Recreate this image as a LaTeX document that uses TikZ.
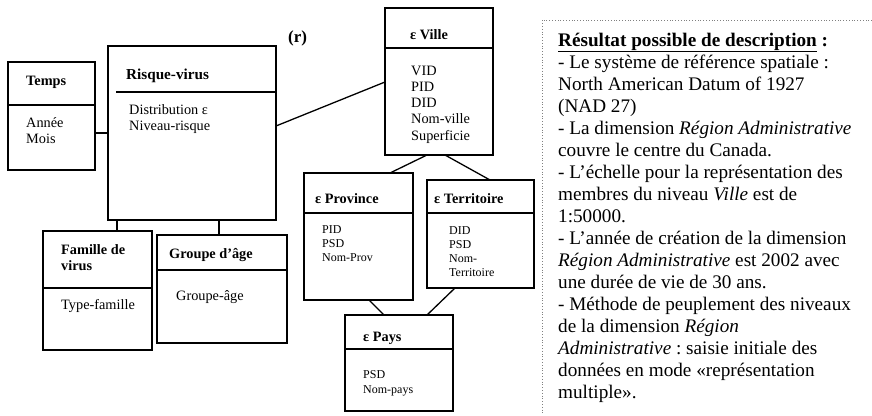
\documentclass[tikz,border=0pt]{standalone}
\usepackage{fontspec}
\setmainfont{Liberation Serif}
\frenchspacing
\begin{document}
\begin{tikzpicture}[x=1pt,y=-1pt,
  box/.style={draw, line width=1.4pt, rectangle, inner sep=0pt, outer sep=0pt, anchor=north west},
  divider/.style={line width=1.3pt},
  link/.style={line width=1.3pt},
  ttl/.style={anchor=base west, inner sep=0pt, align=left, font=\fontsize{14.3}{16.5}\selectfont\bfseries},
  attr/.style={anchor=base west, inner sep=0pt, align=left, font=\fontsize{14.3}{16.7}\selectfont},
  sattr/.style={anchor=base west, inner sep=0pt, align=left, font=\fontsize{12}{14.2}\selectfont},
  frame/.style={draw=gray, dotted, line width=0.8pt}]
\useasboundingbox (0,0) rectangle (872,415);

% ---- boxes ----
\node[box, minimum width=87pt,  minimum height=108pt] (temps)      at (8,62)   {};
\node[box, minimum width=168pt, minimum height=174pt] (risque)     at (108,46) {};
\node[box, minimum width=108pt, minimum height=147pt] (ville)      at (385,8)  {};
\node[box, minimum width=109pt, minimum height=127pt] (province)   at (304,173) {};
\node[box, minimum width=107pt, minimum height=108pt] (territoire) at (427,180) {};
\node[box, minimum width=108pt, minimum height=96pt]  (pays)       at (345,315) {};
\node[box, minimum width=109pt, minimum height=119pt] (famille)    at (43,231) {};
\node[box, minimum width=130pt, minimum height=108pt] (groupe)     at (157,235) {};

% ---- dividers between title and attributes ----
\draw[divider] ([yshift=-43pt]temps.north west) -- ([yshift=-43pt]temps.north east);
\draw[divider] ([xshift=8pt,yshift=-46pt]risque.north west) -- ([yshift=-46pt]risque.north east);
\draw[divider] ([yshift=-40pt]ville.north west) -- ([yshift=-40pt]ville.north east);
\draw[divider] ([yshift=-40pt]province.north west) -- ([yshift=-40pt]province.north east);
\draw[divider] ([yshift=-33pt]territoire.north west) -- ([yshift=-33pt]territoire.north east);
\draw[divider] ([yshift=-34pt]pays.north west) -- ([yshift=-34pt]pays.north east);
\draw[divider] ([yshift=-57pt]famille.north west) -- ([yshift=-57pt]famille.north east);
\draw[divider] ([yshift=-35pt]groupe.north west) -- ([yshift=-35pt]groupe.north east);

% ---- connectors ----
\draw[link] ([yshift=-71pt]temps.north east) -- ([yshift=-71pt]temps.north east -| risque.west);
\draw[link] ([yshift=-80pt]risque.north east) -- ([yshift=-74pt]ville.north west);
\draw[link] ([xshift=9pt]risque.south west) -- ([xshift=9pt]risque.south west |- famille.north);
\draw[link] ([xshift=111pt]risque.south west) -- ([xshift=111pt]risque.south west |- groupe.north);
\draw[link] ([xshift=42pt]ville.south west) -- ([xshift=86pt]province.north west);
\draw[link] ([xshift=60pt]ville.south west) -- ([xshift=63pt]territoire.north west);
\draw[link] ([xshift=65pt]province.south west) -- ([xshift=39pt]pays.north west);
\draw[link] ([xshift=28pt]territoire.south west) -- ([xshift=82pt]pays.north west);

% ---- titles and attributes (base anchor = baseline of the last line) ----
\node[ttl] (tempsT) at (26,85) {Temps};
\node[attr] (tempsA) at (26,143.7) {Année\\Mois};
\node[ttl, font=\fontsize{15.2}{17}\selectfont\bfseries] (risqueT) at (126,79) {Risque-virus};
\node[attr] (risqueA) at (129,130.7) {Distribution ε\\Niveau-risque};
\node[ttl, font=\fontsize{17}{19}\selectfont\bfseries] (rlabel) at (288,42) {(r)};
\node[ttl] (villeT) at (410,39) {ε Ville};
\node[attr, font=\fontsize{14.3}{16.3}\selectfont] (villeA) at (411,140.2) {VID\\PID\\DID\\Nom-ville\\Superficie};
\node[ttl] (provinceT) at (315,203) {ε Province};
\node[sattr] (provinceA) at (322,261.4) {PID\\PSD\\Nom-Prov};
\node[ttl] (territoireT) at (434,203) {ε Territoire};
\node[sattr] (territoireA) at (449,276.6) {DID\\PSD\\Nom-\\Territoire};
\node[ttl] (paysT) at (363,341) {ε Pays};
\node[sattr, font=\fontsize{12}{15}\selectfont] (paysA) at (363,393) {PSD\\Nom-pays};
\node[ttl, font=\fontsize{14.3}{16}\selectfont\bfseries] (familleT) at (61,270) {Famille de\\virus};
\node[attr] (familleA) at (61,309) {Type-famille};
\node[ttl] (groupeT) at (169,258) {Groupe d’âge};
\node[attr] (groupeA) at (176,300) {Groupe-âge};

% ---- description panel ----
\coordinate (panel) at (542,20);
\draw[frame] (872,20) -- (panel) -- (542,415);
\node[anchor=base west, inner sep=0pt, align=left, font=\fontsize{19.2}{22}\selectfont] (desc) at (558,398) {%
\textbf{\underline{Résultat possible de description}} \textbf{:}\\
- Le système de référence spatiale :\\
North American Datum of 1927\\
(NAD 27)\\
- La dimension \textit{Région Administrative}\\
couvre le centre du Canada.\\
- L’échelle pour la représentation des\\
membres du niveau \textit{Ville} est de\\
1:50000.\\
- L’année de création de la dimension\\
\textit{Région Administrative} est 2002 avec\\
une durée de vie de 30 ans.\\
- Méthode de peuplement des niveaux\\
de la dimension \textit{Région}\\
\textit{Administrative} : saisie initiale des\\
données en mode «représentation\\
multiple».};
\end{tikzpicture}
\end{document}
